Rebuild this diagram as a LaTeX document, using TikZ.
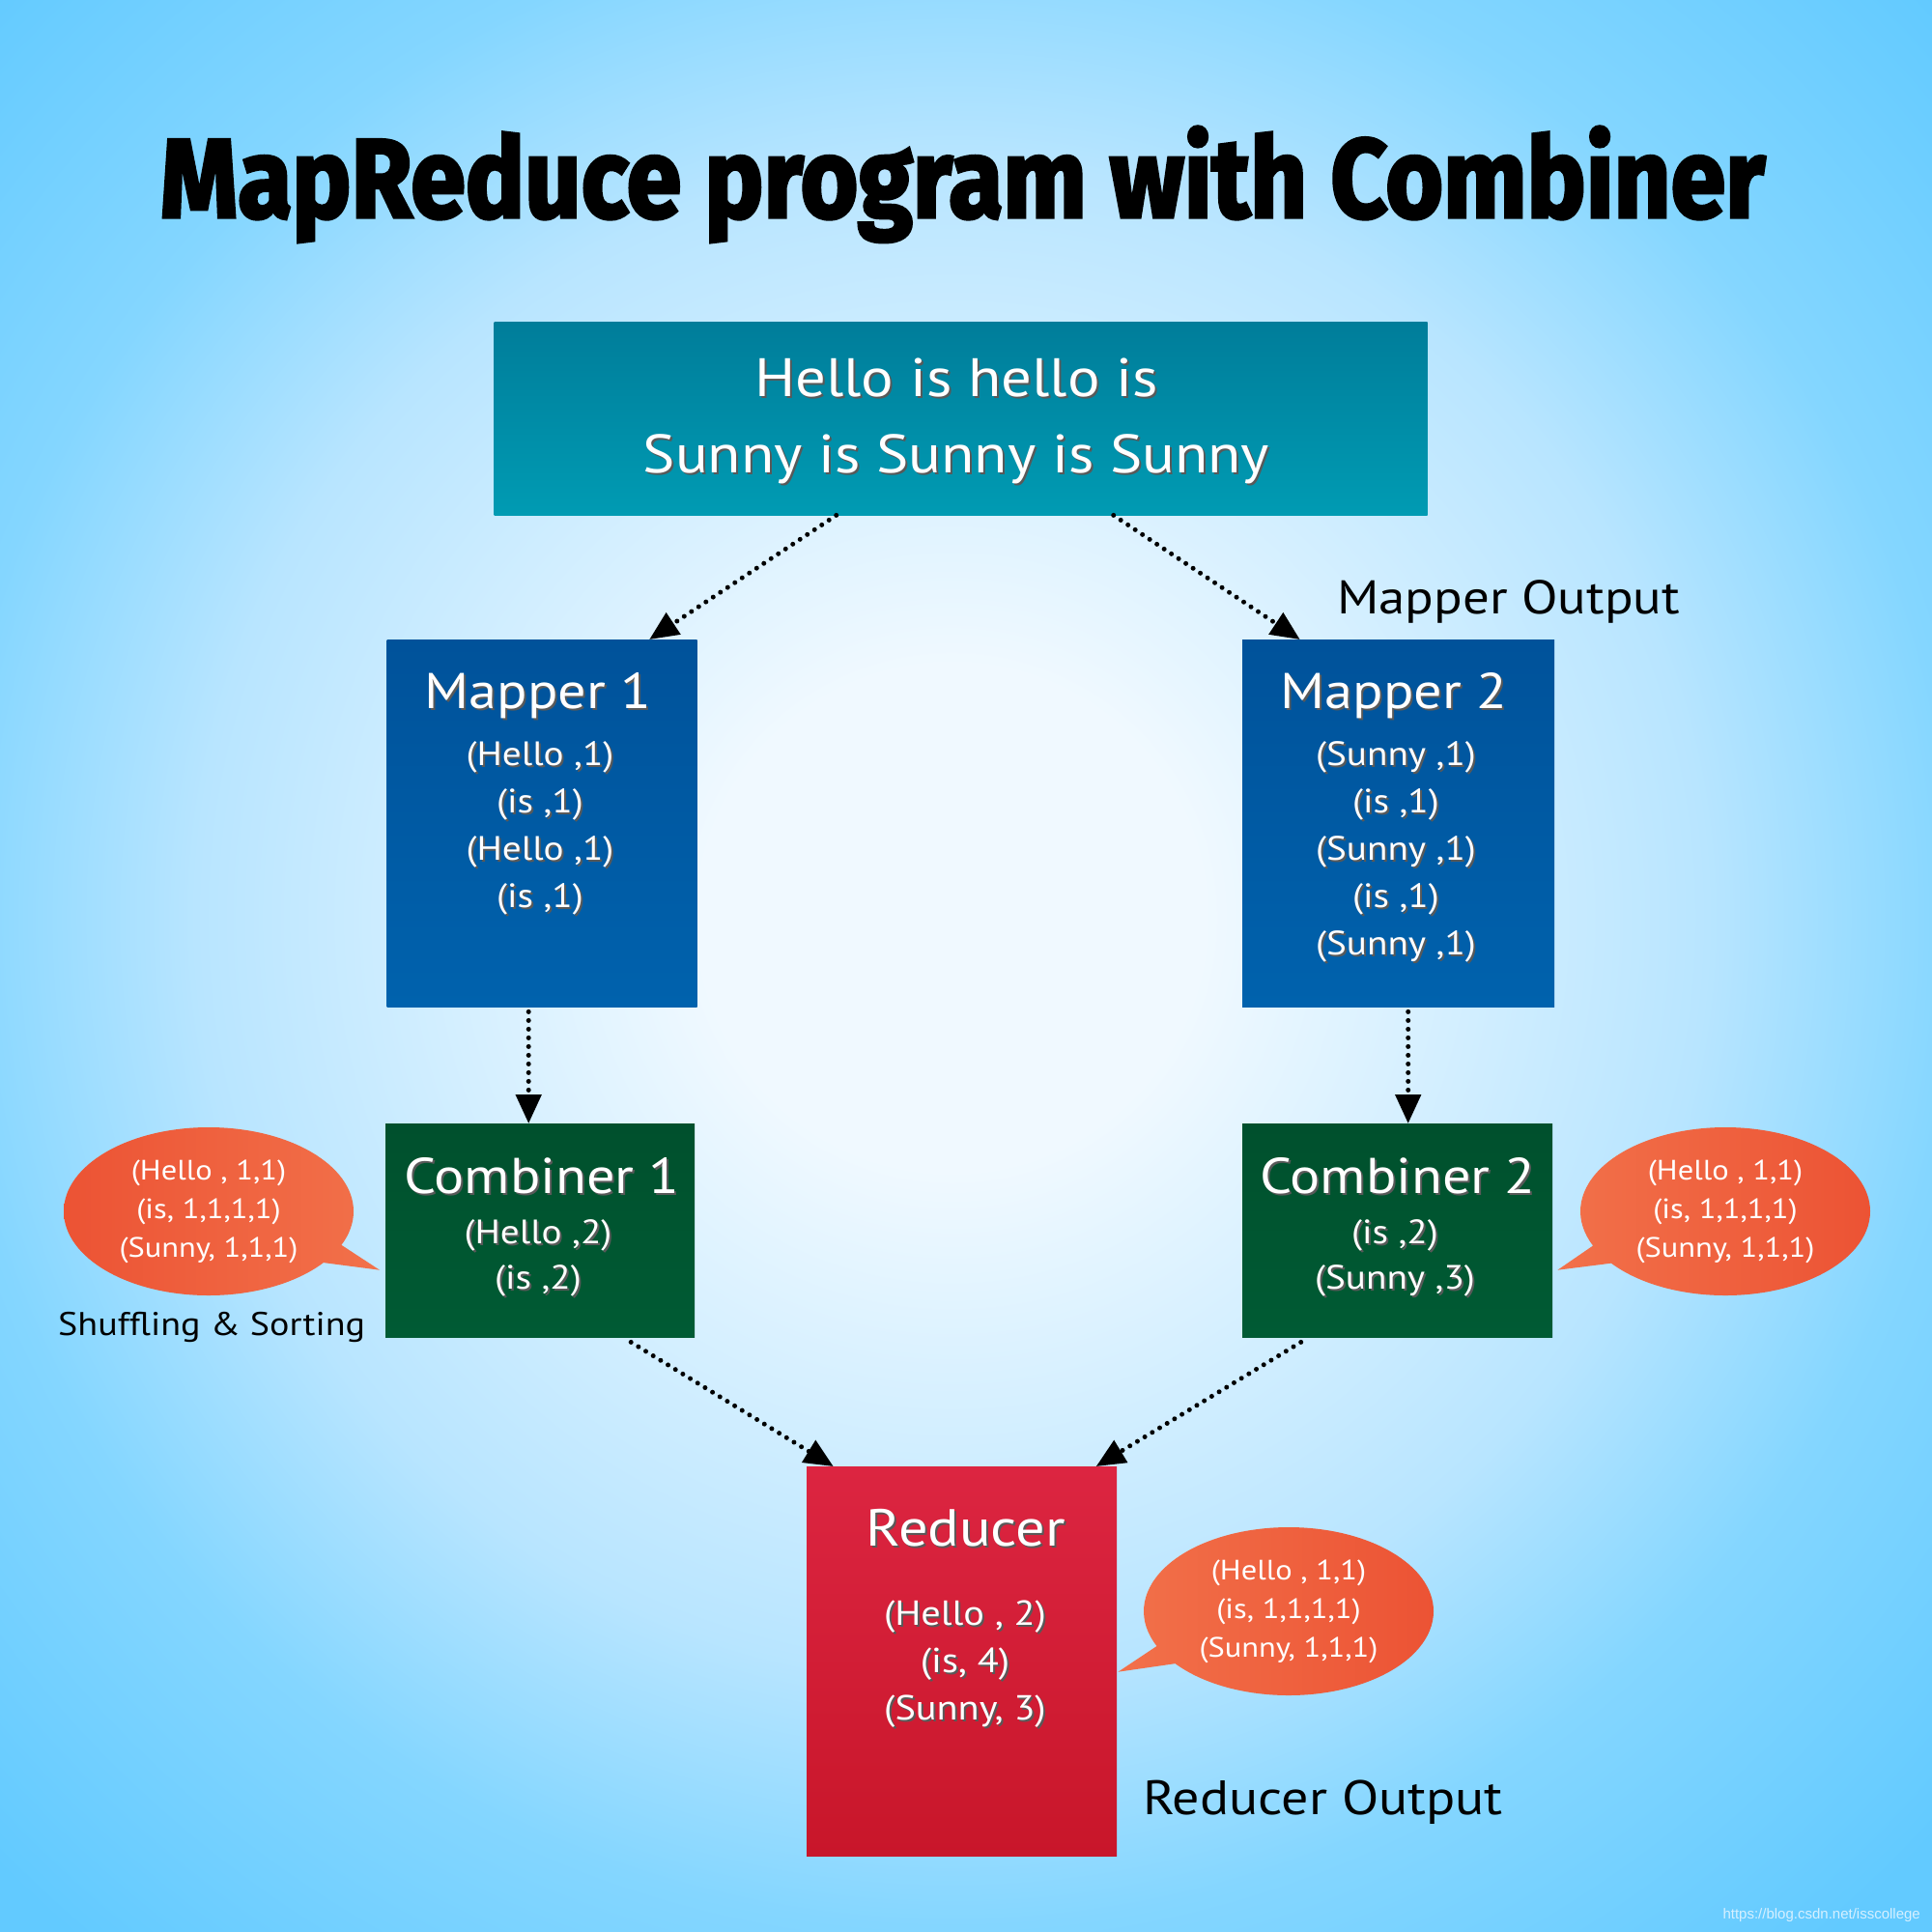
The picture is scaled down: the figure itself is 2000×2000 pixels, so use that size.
\documentclass[tikz,border=0pt]{standalone}
\usepackage{fontspec}
\setmainfont{PT Sans}[FakeStretch=1.12]
\newfontfamily\titlefont{Fira Sans}[BoldFeatures={FakeBold=3}]
\newfontfamily\wmfont{Liberation Sans}
\usetikzlibrary{arrows.meta,shapes.callouts}
\definecolor{bgin}{HTML}{F0F9FF}
\definecolor{bgmid}{HTML}{B8E5FF}
\definecolor{bgedge}{HTML}{84D6FF}
\definecolor{bgout}{HTML}{62CAFF}
\definecolor{tealtop}{HTML}{007D9A}
\definecolor{tealbot}{HTML}{009BB3}
\definecolor{maptop}{HTML}{00529A}
\definecolor{mapbot}{HTML}{0062AD}
\definecolor{comtop}{HTML}{00502D}
\definecolor{combot}{HTML}{005B34}
\definecolor{redtop}{HTML}{DC2541}
\definecolor{redbot}{HTML}{C8162A}
\definecolor{orA}{HTML}{EC5334}
\definecolor{orB}{HTML}{F2714A}
\definecolor{wmc}{HTML}{D6F0FF}
\pgfdeclareradialshading{bgshade}{\pgfpoint{0bp}{0bp}}{color(0bp)=(bgin); color(4.5bp)=(bgin); color(13.5bp)=(bgmid); color(18bp)=(bgedge); color(24bp)=(bgout); color(50bp)=(bgout)}
\newcommand\shd[1]{\leavevmode\rlap{\kern2pt\raisebox{-2pt}{\textcolor{black!65}{#1}}}#1}
\tikzset{
  boxshape/.style={rectangle, inner sep=0pt, anchor=north west, draw=none},
  boxhead/.style={anchor=base, inner sep=0pt, text=white, font=\fontsize{52}{60}\selectfont},
  boxbody/.style={anchor=north, inner sep=0pt, text=white, align=center, font=\fontsize{35}{49}\selectfont},
  arr/.style={line width=5pt, dash pattern=on 0pt off 9pt, line cap=round,
    -{Triangle[length=30pt,width=26pt]}},
  bubble/.style={ellipse callout, minimum width=300pt, minimum height=174pt, inner sep=0pt,
    callout pointer arc=14, text=white, align=center, font=\fontsize{29}{40}\selectfont},
  lab/.style={inner sep=0pt, text=black, font=\fontsize{49}{56}\selectfont}
}
\begin{document}
\begin{tikzpicture}[x=1pt,y=-1pt]
\useasboundingbox (0,0) rectangle (2000,2000);
\begin{scope}
  \clip (0,0) rectangle (2000,2000);
  \shade[shading=bgshade] (-465,-500) rectangle (2435,2400);
\end{scope}
% title
\node[anchor=base, inner sep=0pt] (title) at (996.5,225)
  {\resizebox{1661pt}{94pt}{\titlefont\bfseries MapReduce program with Combiner}};
% boxes
\node[boxshape, top color=tealtop, bottom color=tealbot, minimum width=966pt, minimum height=200pt] (top) at (511.5,333) {};
\node[boxshape, top color=maptop, bottom color=mapbot, minimum width=321pt, minimum height=380pt] (m1) at (400.5,662) {};
\node[boxshape, top color=maptop, bottom color=mapbot, minimum width=323pt, minimum height=380pt] (m2) at (1286,662) {};
\node[boxshape, top color=comtop, bottom color=combot, minimum width=320pt, minimum height=221pt] (c1) at (399,1163) {};
\node[boxshape, top color=comtop, bottom color=combot, minimum width=321pt, minimum height=221pt] (c2) at (1286,1163) {};
\node[boxshape, top color=redtop, bottom color=redbot, minimum width=321pt, minimum height=403pt] (r) at (835,1518) {};
% texts
\node[boxbody, font=\fontsize{56}{79}\selectfont] (topt) at (990,371) {\shd{Hello is hello is}\\\shd{Sunny is Sunny is Sunny}};
\node[boxhead] (m1h) at (557,733) {\shd{Mapper 1}};
\node[boxbody] (m1t) at (559,767) {\shd{(Hello ,1)}\\\shd{(is ,1)}\\\shd{(Hello ,1)}\\\shd{(is ,1)}};
\node[boxhead] (m2h) at (1443,733) {\shd{Mapper 2}};
\node[boxbody] (m2t) at (1445,767) {\shd{(Sunny ,1)}\\\shd{(is ,1)}\\\shd{(Sunny ,1)}\\\shd{(is ,1)}\\\shd{(Sunny ,1)}};
\node[boxhead] (c1h) at (561,1235) {\shd{Combiner 1}};
\node[boxbody, font=\fontsize{35}{47}\selectfont] (c1t) at (557,1262) {\shd{(Hello ,2)}\\\shd{(is ,2)}};
\node[boxhead] (c2h) at (1447,1235) {\shd{Combiner 2}};
\node[boxbody, font=\fontsize{35}{47}\selectfont] (c2t) at (1444,1262) {\shd{(is ,2)}\\\shd{(Sunny ,3)}};
\node[boxhead, font=\fontsize{54}{60}\selectfont] (rh) at (1000,1600) {\shd{Reducer}};
\node[boxbody, font=\fontsize{36}{49}\selectfont] (rt) at (999,1657) {\shd{(Hello , 2)}\\\shd{(is, 4)}\\\shd{(Sunny, 3)}};
% bubbles
\node[bubble, left color=orA, right color=orB,
  callout absolute pointer={([xshift=-6pt,yshift=-41pt]c1.west)}] (b1) at (216,1254)
  {(Hello , 1,1)\\(is, 1,1,1,1)\\(Sunny, 1,1,1)};
\node[bubble, left color=orB, right color=orA,
  callout absolute pointer={([xshift=5pt,yshift=-41pt]c2.east)}] (b2) at (1786,1254)
  {(Hello , 1,1)\\(is, 1,1,1,1)\\(Sunny, 1,1,1)};
\node[bubble, left color=orB, right color=orA,
  callout absolute pointer={([xshift=1pt,yshift=-11pt]r.east)}] (b3) at (1334,1668)
  {(Hello , 1,1)\\(is, 1,1,1,1)\\(Sunny, 1,1,1)};
% labels
\node[lab, anchor=base west] (mo) at (1384,635) {Mapper Output};
\node[lab, anchor=base west, font=\fontsize{34}{44}\selectfont] (ss) at (60,1382) {Shuffling \& Sorting};
\node[lab, anchor=base west, font=\fontsize{50}{56}\selectfont] (ro) at (1183,1878) {Reducer Output};
\node[anchor=base east, inner sep=0pt, text=wmc, font=\wmfont\fontsize{15}{18}\selectfont] (wm) at (1988,1986) {https://blog.csdn.net/isscollege};
% arrows
\draw[arr] ([xshift=-129pt]top.south) -- ([xshift=111pt]m1.north);
\draw[arr] ([xshift=158pt]top.south) -- ([xshift=-102pt]m2.north);
\draw[arr] ([xshift=-14pt,yshift=-5pt]m1.south) -- ([xshift=-12pt]c1.north);
\draw[arr] ([xshift=10pt,yshift=-5pt]m2.south) -- ([xshift=11pt]c2.north);
\draw[arr] ([xshift=94pt,yshift=-5pt]c1.south) -- ([xshift=-133pt]r.north);
\draw[arr] ([xshift=-100pt,yshift=-5pt]c2.south) -- ([xshift=139pt]r.north);
\end{tikzpicture}
\end{document}
